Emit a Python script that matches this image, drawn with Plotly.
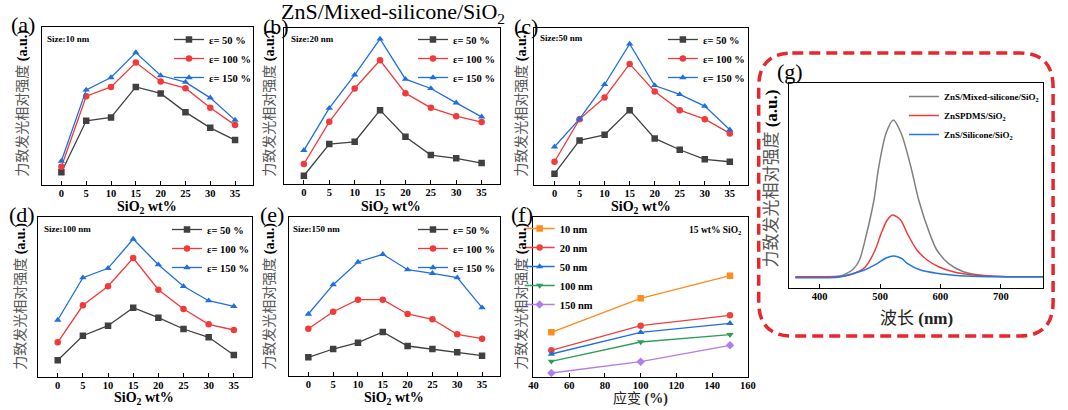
import plotly.graph_objects as go

W, H = 1068, 410
SERIF = "Liberation Serif, Noto Sans CJK SC"

# ---------------- data (arbitrary intensity units) --------------
sio2_wt = [0, 5, 10, 15, 20, 25, 30, 35]
strain_names = ["ε= 50 %", "ε= 100 %", "ε= 150 %"]

a_50 = [12.7, 64.3, 67.7, 98.3, 91.7, 73.0, 57.3, 45.0]
a_100 = [18.3, 89.0, 98.3, 122.7, 103.7, 97.0, 77.3, 60.0]
a_150 = [24.0, 95.3, 107.7, 132.7, 109.7, 103.0, 87.3, 65.0]

b_50 = [8.3, 40.0, 42.3, 74.0, 47.3, 29.0, 25.7, 21.0]
b_100 = [20.0, 62.3, 95.7, 124.0, 91.0, 76.3, 68.0, 62.0]
b_150 = [33.7, 76.0, 109.3, 145.3, 105.0, 95.7, 81.3, 67.3]

c_50 = [11.3, 44.7, 50.3, 75.0, 46.7, 35.3, 25.7, 23.3]
c_100 = [23.3, 66.0, 87.7, 121.3, 93.7, 75.0, 66.0, 51.7]
c_150 = [38.3, 66.3, 100.7, 141.3, 99.7, 90.7, 79.0, 55.3]

d_50 = [16.7, 41.3, 51.3, 69.3, 59.3, 48.0, 39.7, 22.0]
d_100 = [34.7, 71.7, 90.7, 119.0, 87.3, 68.0, 52.7, 47.0]
d_150 = [57.0, 99.3, 108.7, 138.0, 112.3, 90.7, 76.3, 70.7]

e_50 = [18.7, 27.0, 33.3, 44.0, 30.0, 27.0, 23.7, 20.3]
e_100 = [47.3, 64.3, 76.3, 76.3, 62.0, 56.7, 41.7, 37.3]
e_150 = [62.0, 91.3, 114.0, 121.7, 106.3, 102.7, 98.3, 68.3]

size_labels = ["Size:10 nm", "Size:20 nm", "Size:50 nm", "Size:100 nm", "Size:150 nm"]

strain_pct = [50, 100, 150]
particle_names = ["10 nm", "20 nm", "50 nm", "100 nm", "150 nm"]
f_10 = [44.7, 78.7, 101.3]
f_20 = [26.7, 51.3, 61.7]
f_50 = [23.0, 44.7, 53.7]
f_100 = [15.7, 35.0, 42.3]
f_150 = [4.0, 15.3, 31.7]

g_names = ["ZnS/Mixed-silicone/SiO<sub>2</sub>", "ZnSPDMS/SiO<sub>2</sub>", "ZnS/Silicone/SiO<sub>2</sub>"]
g_mixed_wl = [360, 400, 434, 445, 456, 466, 478, 490, 498, 510, 522, 535, 551, 564, 582, 594, 613, 638, 665, 700, 770]
g_mixed_int = [11.3, 11.3, 12.0, 14.7, 19.0, 28.0, 54.7, 88.0, 121.3, 154.7, 168.0, 154.7, 121.3, 88.0, 54.7, 38.0, 24.7, 16.3, 13.0, 11.5, 11.3]
g_pdms_wl = [360, 400, 440, 458, 476, 492, 502, 512, 521, 534, 545, 561, 578, 597, 621, 654, 700, 770]
g_pdms_int = [11.3, 11.3, 11.8, 14.7, 21.3, 38.0, 54.7, 68.0, 73.0, 68.0, 54.7, 38.0, 28.0, 21.3, 16.3, 13.0, 11.5, 11.3]
g_sil_wl = [360, 400, 430, 450, 474, 496, 510, 523, 536, 545, 567, 594, 632, 680, 770]
g_sil_int = [10.3, 10.3, 10.8, 13.5, 18.0, 24.7, 30.0, 32.0, 29.5, 24.7, 18.0, 14.7, 12.3, 11.3, 11.3]

# ---------------- helpers ----------------
def fx(p):
    return p / W

def fy(p):
    return 1 - p / H

C50, C100, C150 = "#404040", "#f23a3a", "#1f6fe0"
FCOL = ["#ff8c1a", "#f0413c", "#1f6fe0", "#2e9e5a", "#b07ee8"]
FSYM = ["square", "circle", "triangle-up", "triangle-down", "diamond"]

# panel boxes in pixels: (left, right, top, bottom)
boxes = {
    1: (37, 251, 27, 185),
    2: (282, 501, 28, 184),
    3: (536, 752, 28, 185),
    4: (33, 250, 217, 377),
    5: (287, 501, 217, 376),
    6: (535, 752, 217, 377),
    7: (794, 1051, 83, 288),
}
yranges = {1: [0, 158.3], 2: [0, 156.3], 3: [0, 157.3], 4: [0, 160], 5: [0, 159], 6: [0, 160], 7: [0, 205]}
xranges = {1: [-4, 38.6], 2: [-4, 38.6], 3: [-4, 38.6], 4: [-4, 38.6], 5: [-4, 38.6], 6: [40, 160], 7: [350, 770]}

fig = go.Figure()

sio2_sets = [
    (1, [a_50, a_100, a_150]),
    (2, [b_50, b_100, b_150]),
    (3, [c_50, c_100, c_150]),
    (4, [d_50, d_100, d_150]),
    (5, [e_50, e_100, e_150]),
]
for k, series in sio2_sets:
    ax = "" if k == 1 else str(k)
    lg = "legend" if k == 1 else f"legend{k}"
    for name, vals, col, sym in zip(strain_names, series, [C50, C100, C150], ["square", "circle", "triangle-up"]):
        fig.add_trace(go.Scatter(
            x=sio2_wt, y=vals, name=name, mode="lines+markers",
            line=dict(color=col, width=1.3), marker=dict(symbol=sym, size=6.5, color=col),
            xaxis="x" + ax, yaxis="y" + ax, legend=lg))

for name, vals, col, sym in zip(particle_names, [f_10, f_20, f_50, f_100, f_150], FCOL, FSYM):
    fig.add_trace(go.Scatter(
        x=strain_pct, y=vals, name=name, mode="lines+markers",
        line=dict(color=col, width=1.3), marker=dict(symbol=sym, size=6.5, color=col),
        xaxis="x6", yaxis="y6", legend="legend6"))

for name, wl, iv, col in zip(g_names, [g_mixed_wl, g_pdms_wl, g_sil_wl], [g_mixed_int, g_pdms_int, g_sil_int],
                             ["#808080", "#f23a3a", "#1f77e8"]):
    fig.add_trace(go.Scatter(
        x=wl, y=iv, name=name, mode="lines", line=dict(color=col, width=1.5, shape="spline", smoothing=0.8),
        xaxis="x7", yaxis="y7", legend="legend7"))

layout = dict(
    width=W, height=H, margin=dict(l=0, r=0, t=0, b=0),
    paper_bgcolor="white", plot_bgcolor="white", showlegend=True,
)

for k, (l, r, t, b) in boxes.items():
    ax = "" if k == 1 else str(k)
    if k <= 5:
        tv = sio2_wt
    elif k == 6:
        tv = [40, 60, 80, 100, 120, 140, 160]
    else:
        tv = [400, 500, 600, 700]
    layout["xaxis" + ax] = dict(
        domain=[fx(l), fx(r)], range=xranges[k], anchor="y" + ax,
        showline=True, mirror=True, linecolor="black", linewidth=1.3,
        ticks="inside", ticklen=4, tickwidth=1.2, tickcolor="black",
        tickvals=tv, showgrid=False, zeroline=False, ticklabelstandoff=-2,
        tickfont=dict(family=SERIF, size=10.5, color="black", weight="bold"))
    layout["yaxis" + ax] = dict(
        domain=[fy(b), fy(t)], range=yranges[k], anchor="x" + ax,
        showline=True, mirror=True, linecolor="black", linewidth=1.3,
        showticklabels=False, ticks="", showgrid=False, zeroline=False)

leg_font = dict(family=SERIF, size=10.5, color="black", weight="bold")
leg_pos = {1: (166, 25), 2: (413, 25), 3: (666, 25), 4: (164, 215), 5: (413, 215), 6: (521, 214), 7: (910, 82)}
for k, (x, y) in leg_pos.items():
    name = "legend" if k == 1 else f"legend{k}"
    layout[name] = dict(
        x=fx(x), y=fy(y), xanchor="left", yanchor="top", bgcolor="rgba(0,0,0,0)",
        borderwidth=0, itemwidth=30, tracegroupgap=0, traceorder="normal",
        font=leg_font if k != 7 else dict(family=SERIF, size=9, color="black", weight="bold"))

def ann(x, y, text, size, color="black", xanchor="center", angle=0, weight="normal"):
    return dict(x=fx(x), y=fy(y), xref="paper", yref="paper", text=text, showarrow=False,
                xanchor=xanchor, yanchor="middle", textangle=angle,
                font=dict(family=SERIF, size=size, color=color, weight=weight))

annotations = []
annotations.append(ann(393, 13, "ZnS/Mixed-silicone/SiO<sub>2</sub>", 22))
for lab, (x, y) in zip(["(a)", "(b)", "(c)", "(d)", "(e)", "(f)", "(g)"],
                       [(18, 24), (274, 26), (527, 26), (17, 214), (270, 214), (523, 214), (795, 72)]):
    annotations.append(ann(x, y, lab, 22))
for lab, (x, y) in zip(size_labels, [(40, 39), (288, 39), (540, 38), (37, 229), (290, 229)]):
    annotations.append(ann(x, y, lab, 9, xanchor="left", weight="bold"))
annotations.append(ann(748, 231, "15 wt% SiO<sub>2</sub>", 9.5, xanchor="right", weight="bold"))
xt_sio2 = "<b>SiO<sub>2</sub> wt%</b>"
for x, y in [(144, 207), (391, 207), (644, 207), (141, 398), (394, 398)]:
    annotations.append(ann(x, y, xt_sio2, 14))
annotations.append(ann(643, 398, "应变 <b>(%)</b>", 14, color="#222"))
annotations.append(ann(923, 318, "波长 <b>(nm)</b>", 17, color="#222"))
yt = '<span style="color:#555">力致发光相对强度</span> <b>(a.u.)</b>'
for x, y in [(18, 103), (268, 103), (523, 103), (16, 296), (268, 296), (523, 296)]:
    annotations.append(ann(x, y, yt, 14, angle=-90))
annotations.append(ann(776, 179, yt, 17, angle=-90))
layout["annotations"] = annotations

# red dashed rounded frame around (g)
x0, x1, y0, y1, r = 763, 1061, 53, 336, 34
def P(x, y):
    return f"{fx(x):.5f},{fy(y):.5f}"
path = (f"M {P(x0 + r, y0)} L {P(x1 - r, y0)} Q {P(x1, y0)} {P(x1, y0 + r)} "
        f"L {P(x1, y1 - r)} Q {P(x1, y1)} {P(x1 - r, y1)} L {P(x0 + r, y1)} "
        f"Q {P(x0, y1)} {P(x0, y1 - r)} L {P(x0, y0 + r)} Q {P(x0, y0)} {P(x0 + r, y0)} Z")
layout["shapes"] = [dict(type="path", path=path, xref="paper", yref="paper",
                         line=dict(color="#e8262b", width=3.5, dash="11px,6px"))]

fig.update_layout(**layout)
fig.write_html("out.html")
